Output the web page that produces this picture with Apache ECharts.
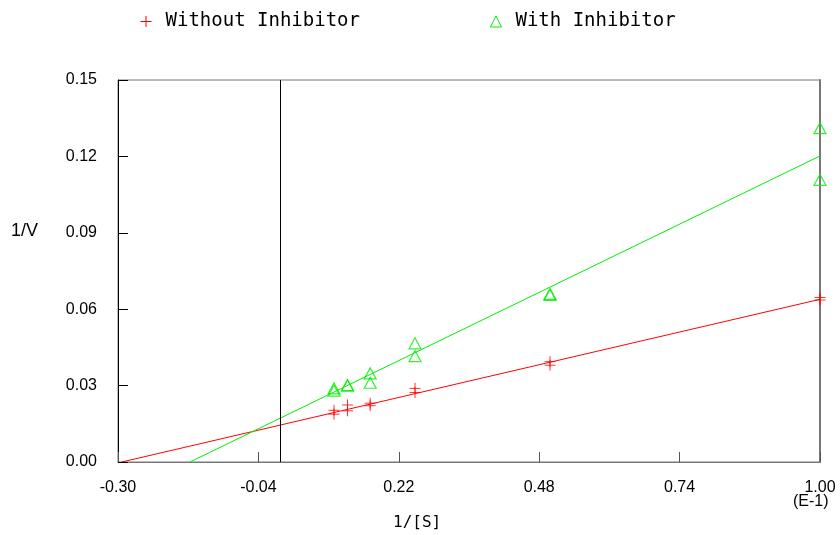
<!DOCTYPE html>
<html>
<head>
<meta charset="utf-8">
<style>html,body{margin:0;padding:0;background:#fff;}#chart{width:840px;height:535px;}</style>
<script src="https://cdn.jsdelivr.net/npm/echarts@6/dist/echarts.min.js"></script>
</head>
<body>
<div id="chart"></div>
<script>
// 1/[S] values for each measured point (duplicate measurements)
const invS = [0.10, 0.10, 0.125, 0.125, 0.167, 0.167, 0.25, 0.25, 0.50, 0.50, 1.00, 1.00];
// 1/V without inhibitor
const invV_without = [0.0203, 0.0188, 0.0224, 0.0201, 0.0231, 0.0221, 0.0289, 0.0273, 0.0394, 0.0380, 0.0646, 0.0636];
// 1/V with inhibitor
const invV_with = [0.0289, 0.0280, 0.0302, 0.0300, 0.0348, 0.0311, 0.0466, 0.0416, 0.0660, 0.0656, 0.1311, 0.1108];
// linear fits (slope, intercept)
const fitWithout = [0.0494, 0.01448];
const fitWith = [0.1030, 0.01717];
const seriesNames = ['Without Inhibitor', 'With Inhibitor'];
const xTicks = [-0.30, -0.04, 0.22, 0.48, 0.74, 1.00];
const yTicks = [0.00, 0.03, 0.06, 0.09, 0.12, 0.15];
const xMin = -0.30, xMax = 1.00, yMin = 0, yMax = 0.15;

function fitLine(fit) {
  const x0 = -fit[1] / fit[0];
  return [[x0, 0], [xMax, fit[0] * xMax + fit[1]]];
}
function pairs(xs, ys) { return xs.map((x, i) => [x, ys[i]]); }

const RED = '#ff0000', GREEN = '#00ee00';
const plusPath = 'path://M0,5L10,5M5,0L5,10';
const labelFont = { fontFamily: 'Liberation Sans, Arial, sans-serif', fontSize: 16, color: '#000' };

const chart = echarts.init(document.getElementById('chart'), null, { renderer: 'canvas' });
chart.setOption({
  animation: false,
  backgroundColor: '#fff',
  grid: { left: 118, right: 20, top: 80, bottom: 73, show: true, borderColor: '#777', borderWidth: 1 },
  legend: {
    left: 133, top: 7,
    itemWidth: 11, itemHeight: 11, itemGap: 128,
    formatter: '{t|{name}}',
    textStyle: { rich: { t: { fontFamily: 'DejaVu Sans Mono, monospace', fontSize: 19, color: '#000', padding: [0, 0, 0, 9] } } },
    data: [
      { name: seriesNames[0], icon: plusPath, itemStyle: { color: 'none', borderColor: RED, borderWidth: 1 } },
      { name: seriesNames[1], icon: 'triangle', itemStyle: { color: 'none', borderColor: GREEN, borderWidth: 1 } }
    ]
  },
  xAxis: [{
    type: 'value', min: xMin, max: xMax,
    axisLine: { onZero: false, lineStyle: { color: '#777', width: 1 } },
    axisTick: { inside: true, length: 10, lineStyle: { color: '#555' }, customValues: xTicks },
    axisLabel: Object.assign({ margin: 18, customValues: xTicks, formatter: v => v.toFixed(2) }, labelFont),
    splitLine: { show: false }
  }],
  yAxis: [{
    type: 'value', min: yMin, max: yMax,
    axisLine: { show: true, onZero: false, lineStyle: { color: '#000', width: 1 } },
    axisTick: { inside: true, length: 10, lineStyle: { color: '#000' }, customValues: yTicks },
    axisLabel: Object.assign({ margin: 21, customValues: yTicks, formatter: v => v.toFixed(2) }, labelFont),
    splitLine: { show: false }
  }, {
    type: 'value', min: yMin, max: yMax, position: 'right',
    axisLine: { show: true, onZero: false, lineStyle: { color: '#777', width: 2 } },
    axisTick: { show: false }, axisLabel: { show: false }, splitLine: { show: false }
  }],
  graphic: [
    { type: 'text', left: 11, top: 222, style: { text: '1/V', font: '18px Liberation Sans, Arial, sans-serif', fill: '#000' } },
    { type: 'text', left: 393, top: 515, style: { text: '1/[S]', font: '16px DejaVu Sans Mono, monospace', fill: '#000' } },
    { type: 'text', left: 793, top: 494, style: { text: '(E-1)', font: '16px Liberation Sans, Arial, sans-serif', fill: '#000' } }
  ],
  series: [
    {
      name: seriesNames[0], type: 'line', data: fitLine(fitWithout), showSymbol: false, symbol: 'none',
      lineStyle: { color: RED, width: 1 }, itemStyle: { color: RED }, silent: true, z: 2,
      markLine: {
        silent: true, symbol: 'none', label: { show: false },
        lineStyle: { color: '#000', width: 1, type: 'solid' },
        data: [{ xAxis: 0 }]
      }
    },
    {
      name: seriesNames[1], type: 'line', data: fitLine(fitWith), showSymbol: false, symbol: 'none',
      lineStyle: { color: GREEN, width: 1 }, itemStyle: { color: GREEN }, silent: true, z: 2
    },
    {
      name: seriesNames[0], type: 'scatter', data: pairs(invS, invV_without),
      symbol: plusPath, symbolSize: 11,
      itemStyle: { color: 'none', borderColor: RED, borderWidth: 1 }, z: 3
    },
    {
      name: seriesNames[1], type: 'scatter', data: pairs(invS, invV_with),
      symbol: 'triangle', symbolSize: [12, 11],
      itemStyle: { color: 'none', borderColor: GREEN, borderWidth: 1.2 }, z: 3
    }
  ]
});
</script>
</body>
</html>
